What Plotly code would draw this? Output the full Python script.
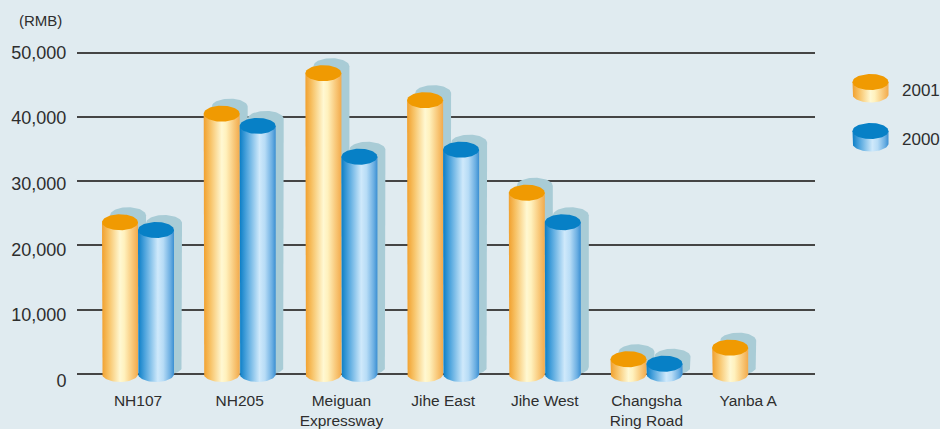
import numpy as np
import plotly.graph_objects as go

# ---------------- data ----------------
categories = ["NH107", "NH205", "Meiguan<br>Expressway", "Jihe East",
              "Jihe West", "Changsha<br>Ring Road", "Yanba A"]
series_names = ["2001", "2000"]
values_2001 = [23600, 40500, 46800, 42600, 28200, 2300, 4100]
values_2000 = [22400, 38600, 33800, 34900, 23600, 1600, None]
y_tick_values = [0, 10000, 20000, 30000, 40000, 50000]
y_tick_labels = ["0", "10,000", "20,000", "30,000", "40,000", "50,000"]
unit_label = "(RMB)"

# ---------------- layout constants ----------------
W, H = 940, 429
ML, MT, MB, MR = 77, 39, 40, 0
PLOT_W = 738
PAPER_W = W - ML - MR
PAPER_H = H - MT - MB
PLOT_BOTTOM = H - MB


def y_range_for(zero_px, top_px, top_val):
    k = (zero_px - top_px) / top_val          # px per unit
    return [-(PLOT_BOTTOM - zero_px) / k, (zero_px - MT) / k], k


Y_RANGE, SY = y_range_for(374.0, 52.6, 50000)
# the tick labels of the original sit on a slightly stretched scale
LABEL_Y_RANGE, _ = y_range_for(380.5, 52.3, 50000)

X_RANGE = [-0.6, 6.657]
SX = PLOT_W / (X_RANGE[1] - X_RANGE[0])      # px per x unit

HW_PX, RY_PX = 18, 8
SH_DX_PX, SH_DY_PX = 8, 7

BG = "#e0ebf0"
SHADOW = "#a9ccd6"
ORANGE_TOP = "#f09a02"
BLUE_TOP = "#0780c6"
ORANGE_SCALE = [[0, "#f1a02e"], [0.18, "#f7c164"], [0.5, "#fff8d2"],
                [0.62, "#fff1bd"], [0.85, "#f8c676"], [1, "#f2aa4c"]]
BLUE_SCALE = [[0, "#0b7ec6"], [0.18, "#4aa2dc"], [0.55, "#cfe9fb"],
              [0.7, "#b7dcf6"], [0.9, "#6aaee2"], [1, "#3b8fd2"]]
FONT = "Liberation Sans, Arial, sans-serif"
TXT = "#2e2e2e"


def px2paper_x(px):
    return (px - ML) / PAPER_W


def px2paper_y(py):
    return (H - MB - py) / PAPER_H


def cylinder(xc, top, bottom, hw, ry, n=40):
    t1 = np.linspace(np.pi, 2 * np.pi, n)
    bx = np.concatenate([[xc - hw], xc + hw * np.cos(t1), [xc + hw]])
    by = np.concatenate([[top], bottom + ry * np.sin(t1), [top]])
    t2 = np.linspace(0, 2 * np.pi, 2 * n)
    ex = xc + hw * np.cos(t2)
    ey = top + ry * np.sin(t2)
    return bx, by, ex, ey


def silhouette(xc, top, bottom, hw, ry, n=40):
    ta = np.linspace(np.pi, 0, n)
    tb = np.linspace(0, -np.pi, n)
    xs = np.concatenate([xc + hw * np.cos(ta), xc + hw * np.cos(tb)])
    ys = np.concatenate([top + ry * np.sin(ta), bottom + ry * np.sin(tb)])
    return xs, ys


fig = go.Figure()

hw = HW_PX / SX
ry = RY_PX / SY
sdx = SH_DX_PX / SX
sdy = SH_DY_PX / SY

series = [(values_2001, -hw, ORANGE_SCALE, ORANGE_TOP),
          (values_2000, hw, BLUE_SCALE, BLUE_TOP)]

nolines = dict(width=0, color="rgba(0,0,0,0)")

# shadows
for vals, off, _, _ in series:
    for i, v in enumerate(vals):
        if v is None:
            continue
        xs, ys = silhouette(i + off + sdx, v + sdy, 0 + sdy, hw, ry)
        fig.add_trace(go.Scatter(x=xs, y=ys, fill="toself", fillcolor=SHADOW,
                                 mode="lines", line=nolines, hoverinfo="skip",
                                 showlegend=False))

# cylinders
for i in range(len(categories)):
    for vals, off, scale, topc in series:
        v = vals[i]
        if v is None:
            continue
        bx, by, ex, ey = cylinder(i + off, v, 0, hw, ry)
        fig.add_trace(go.Scatter(x=bx, y=by, fill="toself",
                                 fillgradient=dict(type="horizontal", colorscale=scale),
                                 mode="lines", line=nolines, hoverinfo="skip",
                                 showlegend=False))
        fig.add_trace(go.Scatter(x=ex, y=ey, fill="toself", fillcolor=topc,
                                 mode="lines", line=nolines, hoverinfo="skip",
                                 showlegend=False))

# invisible trace that carries the tick-label axis
fig.add_trace(go.Scatter(x=[X_RANGE[0]] * len(y_tick_values), y=y_tick_values,
                         yaxis="y3", mode="markers", marker=dict(opacity=0),
                         hoverinfo="skip", showlegend=False))

# legend icons (pixel coordinate axes)
LEG_X0_PX = 828
LEG_Y1_PX = 200
LEG_CX = 870.5
LEG_TOPS = [82, 131]
LEG_BODY = 12.5
leg_styles = [(ORANGE_SCALE, ORANGE_TOP), (BLUE_SCALE, BLUE_TOP)]
for (scale, topc), ty in zip(leg_styles, LEG_TOPS):
    bx, by, ex, ey = cylinder(LEG_CX, ty, ty + LEG_BODY, HW_PX, -RY_PX)
    fig.add_trace(go.Scatter(x=bx, y=by, xaxis="x2", yaxis="y2", fill="toself",
                             fillgradient=dict(type="horizontal", colorscale=scale),
                             mode="lines", line=nolines, hoverinfo="skip",
                             showlegend=False))
    fig.add_trace(go.Scatter(x=ex, y=ey, xaxis="x2", yaxis="y2", fill="toself",
                             fillcolor=topc, mode="lines", line=nolines,
                             hoverinfo="skip", showlegend=False))

annotations = [dict(text=unit_label, xref="paper", yref="paper",
                    x=px2paper_x(17), y=px2paper_y(20), xanchor="left",
                    yanchor="middle", showarrow=False,
                    font=dict(family=FONT, size=15, color=TXT))]
for name, ty in zip(series_names, LEG_TOPS):
    annotations.append(dict(text=name, xref="paper", yref="paper",
                            x=px2paper_x(900), y=px2paper_y(ty + 8),
                            xanchor="left", yanchor="middle", showarrow=False,
                            font=dict(family=FONT, size=17, color=TXT)))

fig.update_layout(
    width=W, height=H,
    margin=dict(l=ML, r=MR, t=MT, b=MB, autoexpand=False),
    paper_bgcolor=BG, plot_bgcolor=BG,
    showlegend=False,
    annotations=annotations,
    xaxis=dict(domain=[0, PLOT_W / PAPER_W], range=X_RANGE, automargin=False,
               tickmode="array", tickvals=list(range(len(categories))),
               ticktext=categories, showgrid=False, zeroline=False,
               showline=False, ticks="",
               tickfont=dict(family=FONT, size=15.5, color=TXT), fixedrange=True),
    yaxis=dict(domain=[0, 1], range=Y_RANGE, tickmode="array", automargin=False,
               tickvals=y_tick_values, showticklabels=False,
               showgrid=True, gridcolor="#454545", gridwidth=1.5,
               zeroline=False, showline=False, ticks="", fixedrange=True),
    yaxis3=dict(overlaying="y", anchor="x", side="left", range=LABEL_Y_RANGE,
                automargin=False,
                tickmode="array", tickvals=y_tick_values, ticktext=y_tick_labels,
                showgrid=False, zeroline=False, showline=False,
                ticks="outside", ticklen=6, tickcolor="rgba(0,0,0,0)",
                tickfont=dict(family=FONT, size=18, color=TXT), fixedrange=True),
    xaxis2=dict(domain=[px2paper_x(LEG_X0_PX), 1], range=[LEG_X0_PX, W],
                visible=False, anchor="y2", fixedrange=True, automargin=False),
    yaxis2=dict(domain=[px2paper_y(LEG_Y1_PX), 1], range=[LEG_Y1_PX, MT],
                visible=False, anchor="x2", fixedrange=True, automargin=False),
)

fig.write_html("out.html")
